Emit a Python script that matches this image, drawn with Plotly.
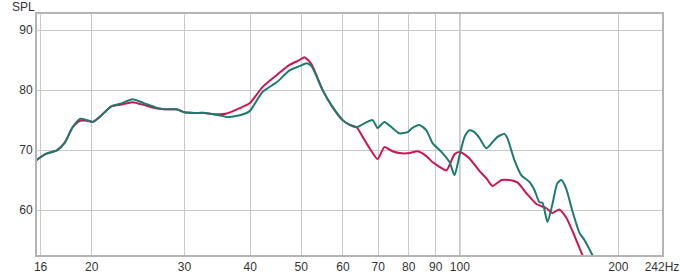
import plotly.graph_objects as go
import math

# Red (crimson) curve
freq_red = [15.7, 16.3, 17.2, 17.8, 18.4, 19.0, 19.6, 20.1, 20.7, 21.8, 22.8, 23.9, 25.2, 26.3, 27.5,
            29.0, 30.0, 31.4, 32.8, 33.9, 35.5, 36.1, 38.2, 39.9, 42.2, 44.9, 47.5, 49.6, 50.7, 52.3,
            54.9, 57.3, 59.9, 61.8, 63.7, 65.4, 67.4, 69.8, 71.9, 74.5, 76.8, 80.3, 83.1, 86.4, 88.7,
            91.5, 94.3, 97.7, 99.8, 101.2, 104.3, 109.0, 112.3, 115.3, 120.0, 124.2, 128.6, 133.8,
            139.8, 146.0, 149.9, 154.5, 159.3, 163.6, 170.9, 174.0]
spl_red = [68.3, 69.3, 70.0, 71.3, 73.8, 74.9, 74.9, 74.7, 75.5, 77.3, 77.6, 78.0, 77.5, 77.0, 76.8,
           76.8, 76.3, 76.2, 76.2, 76.0, 76.0, 76.1, 77.0, 77.8, 80.5, 82.5, 84.2, 85.0, 85.5, 84.3,
           80.0, 77.2, 75.0, 74.2, 73.8, 72.2, 70.3, 68.5, 70.5, 69.8, 69.5, 69.5, 69.8, 69.0, 68.0,
           67.2, 66.6, 69.3, 69.7, 69.5, 68.6, 66.5, 65.3, 64.0, 65.0, 65.0, 64.6, 62.8,
           61.0, 60.3, 59.5, 60.1, 58.7, 56.5, 52.5, 51.0]

# Teal curve
freq_teal = [15.7, 16.3, 17.2, 17.8, 18.4, 19.0, 19.6, 20.1, 20.7, 21.8, 22.8, 23.9, 25.2, 26.3, 27.5,
             29.0, 30.0, 31.4, 32.8, 33.9, 35.5, 36.1, 38.2, 39.9, 42.2, 44.9, 47.5, 49.6, 51.2, 52.3,
             54.9, 57.3, 59.9, 61.8, 63.7, 65.4, 68.3, 69.8, 71.9, 74.2, 76.8, 79.6, 81.3, 83.8, 86.4,
             88.7, 92.7, 95.6, 97.7, 99.8, 102.1, 104.3, 106.6, 109.0, 112.3, 115.3, 117.9, 121.5,
             123.1, 127.0, 130.9, 135.6, 138.6, 141.6, 143.5, 146.7, 149.9, 153.2, 155.9, 159.3,
             163.6, 168.7, 172.4, 178.5, 182.0]
spl_teal = [68.3, 69.3, 70.0, 71.3, 73.8, 75.2, 75.0, 74.7, 75.5, 77.3, 77.8, 78.5, 77.8, 77.2, 76.8,
            76.8, 76.3, 76.2, 76.2, 76.0, 75.7, 75.5, 75.8, 76.5, 79.7, 81.3, 83.3, 84.0, 84.5, 84.0,
            80.0, 77.2, 75.0, 74.2, 73.8, 74.3, 75.0, 73.7, 74.7, 73.8, 72.8, 73.0, 73.7, 74.2, 73.3,
            71.2, 69.5, 68.0, 65.8, 69.0, 72.2, 73.3, 73.0, 72.0, 70.3, 71.3, 72.2, 72.7,
            72.0, 68.3, 65.8, 64.7, 63.3, 61.3, 61.2, 58.0, 61.0, 64.5, 65.0, 63.5,
            59.8, 56.2, 55.0, 52.5, 51.0]

x_tickvals = [16, 20, 30, 40, 50, 60, 70, 80, 90, 100, 200, 242]
x_ticktext = ["16", "20", "30", "40", "50", "60", "70", "80", "90", "100", "200", "242Hz"]
y_tickvals = [60, 70, 80, 90]

fig = go.Figure()
fig.add_trace(go.Scatter(x=freq_red, y=spl_red, mode="lines",
                         line=dict(color="#cf1550", width=2, shape="spline", smoothing=0.6),
                         showlegend=False, hoverinfo="skip"))
fig.add_trace(go.Scatter(x=freq_teal, y=spl_teal, mode="lines",
                         line=dict(color="#1b7b70", width=2, shape="spline", smoothing=0.6),
                         showlegend=False, hoverinfo="skip"))

fig.add_shape(type="line", xref="x", yref="paper", x0=100, x1=100, y0=0, y1=1,
              line=dict(color="#808080", width=1), layer="below")

fig.add_annotation(text="SPL", xref="paper", yref="paper", x=-0.022, y=1.03,
                   xanchor="center", yanchor="middle", showarrow=False,
                   font=dict(family="Liberation Sans, Arial, sans-serif", size=12, color="#333333"))

fig.update_layout(
    width=680, height=275,
    margin=dict(l=37, r=18, t=14, b=20, autoexpand=False),
    paper_bgcolor="white", plot_bgcolor="white",
    font=dict(family="Liberation Sans, Arial, sans-serif", size=12, color="#333333"),
    xaxis=dict(type="log", range=[math.log10(15.75), math.log10(242)],
               tickvals=x_tickvals, ticktext=x_ticktext, automargin=False,
               showgrid=True, gridcolor="#c8c8c8", gridwidth=1,
               showline=True, linecolor="#b4b4b4", linewidth=2, mirror=True,
               ticks="", zeroline=False, tickfont=dict(size=12, color="#333333")),
    yaxis=dict(range=[52.5, 92.7], tickvals=y_tickvals, automargin=False,
               showgrid=True, gridcolor="#c8c8c8", gridwidth=1,
               showline=True, linecolor="#b4b4b4", linewidth=2, mirror=True,
               ticks="", zeroline=False, tickfont=dict(size=12, color="#333333")),
)

fig.write_html("out.html")
